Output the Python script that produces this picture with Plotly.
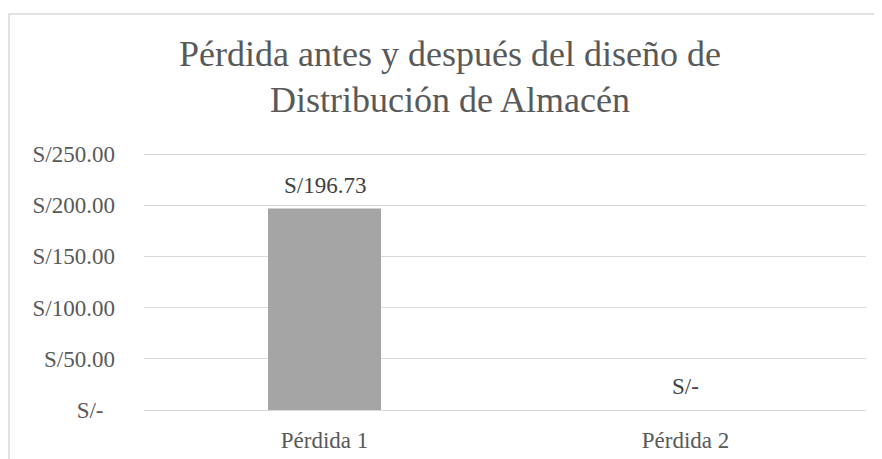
"""Pérdida antes y después del diseño de distribución de almacén."""

import plotly.graph_objects as go

categories = ["Pérdida 1", "Pérdida 2"]
losses = [196.73, 0.0]
bar_labels = ["S/196.73", "S/-"]
y_tick_values = [0, 50, 100, 150, 200, 250]
y_tick_labels = ["S/-\u00a0\u00a0", "S/50.00", "S/100.00", "S/150.00", "S/200.00", "S/250.00"]

TEXT_COLOR = "#595959"
GRID_COLOR = "#d9d9d9"
FONT = "Liberation Serif, Times New Roman, serif"

# page body keeps its default 8px margin, so the figure is 8px smaller than the window
figure = go.Figure(
    go.Bar(
        x=categories,
        y=losses,
        marker={"color": "#a5a5a5", "line": {"width": 0}},
        hovertemplate="%{x}: S/%{y:.2f}<extra></extra>",
    )
)
for category, loss, label in zip(categories, losses, bar_labels):
    figure.add_annotation(
        x=category,
        y=loss,
        text=label,
        showarrow=False,
        yanchor="bottom",
        yshift=9,
        font={"size": 23, "color": "#404040", "family": FONT},
    )
figure.update_layout(
    width=874,
    height=451,
    title={
        "text": "Pérdida antes y después del diseño de<br>Distribución de Almacén",
        "x": 442 / 874,
        "xanchor": "center",
        "y": 0.8725,
        "yanchor": "top",
        "font": {"size": 36, "color": TEXT_COLOR, "family": FONT},
    },
    font={"family": FONT, "color": TEXT_COLOR, "size": 23},
    paper_bgcolor="white",
    plot_bgcolor="white",
    bargap=0.687,
    showlegend=False,
    margin={"l": 136, "r": 16, "t": 145, "b": 49},
    xaxis={
        "automargin": False,
        "showgrid": False,
        "showline": False,
        "ticks": "",
        "tickfont": {"size": 23, "color": TEXT_COLOR},
        "ticklabelstandoff": 14,
    },
    yaxis={
        "automargin": False,
        "range": [0, 251],
        "tickvals": y_tick_values,
        "ticktext": y_tick_labels,
        "showgrid": True,
        "gridcolor": GRID_COLOR,
        "gridwidth": 1,
        "zeroline": True,
        "zerolinecolor": GRID_COLOR,
        "zerolinewidth": 1,
        "showline": False,
        "ticks": "",
        "tickfont": {"size": 23, "color": TEXT_COLOR},
        "ticklabelstandoff": 28,
    },
    shapes=[
        {
            "type": "rect",
            "xref": "paper",
            "yref": "paper",
            "x0": -135 / 722,
            "x1": 1.1,
            "y0": -0.5,
            "y1": (410 - 14) / 257,
            "line": {"color": GRID_COLOR, "width": 1.5},
            "fillcolor": "rgba(0,0,0,0)",
            "layer": "below",
        }
    ],
)
figure.write_html("out.html")
